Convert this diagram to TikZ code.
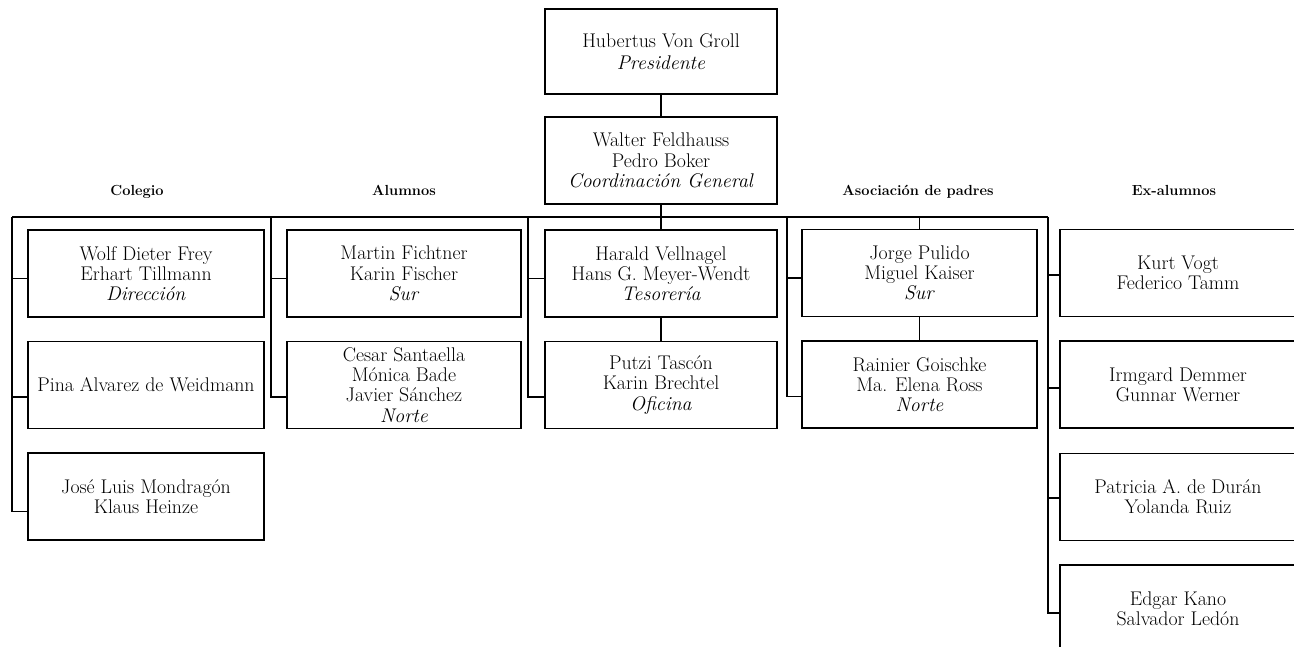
\documentclass[tikz,border=0pt]{standalone}

\begin{document}
\begin{tikzpicture}[x=1pt,y=-1pt,
    box/.style={draw,line width=1.4pt,minimum width=234pt,minimum height=87pt,
        inner sep=0pt,align=center,font=\fontsize{19.8}{20.2}\selectfont},
    head/.style={anchor=base,font=\fontsize{14.6}{16}\selectfont\bfseries},
    link/.style={line width=1.4pt}]
        \clip (0,0) rectangle (1294,647);
        % Top
        \node[box,minimum width=232pt,minimum height=85pt,font=\fontsize{19.8}{21.5}\selectfont] (pres) at (661,51.5) {Hubertus Von Groll\\\textit{Presidente}};
        \node[box,minimum width=232pt] (gen) at (661,160.5) {Walter Feldhauss\\Pedro Boker\\\textit{Coordinación General}};

        % Headings
        \node[head] (hcol) at (137,196) {Colegio};
        \node[head] (halu) at (404,196) {Alumnos};
        \node[head] (haso) at (918,196) {Asociación de padres};
        \node[head] (hexa) at (1174,196) {Ex-alumnos};

        % Colegio
        \node[box,minimum width=236pt] (col1) at (146,273.5) {Wolf Dieter Frey\\Erhart Tillmann\\\textit{Dirección}};
        \node[box,minimum width=236pt] (col2) at (146,385) {Pina Alvarez de Weidmann};
        \node[box,minimum width=236pt] (col3) at (146,496.5) {José Luis Mondragón\\Klaus Heinze};
        % Alumnos
        \node[box] (alu1) at (404,273.5) {Martin Fichtner\\Karin Fischer\\\textit{Sur}};
        \node[box] (alu2) at (404,385) {Cesar Santaella\\Mónica Bade\\Javier Sánchez\\\textit{Norte}};
        % Tesoreria
        \node[box,minimum width=232pt] (tes1) at (661,273.5) {Harald Vellnagel\\Hans G. Meyer-Wendt\\\textit{Tesorería}};
        \node[box,minimum width=232pt] (tes2) at (661,385) {Putzi Tascón\\Karin Brechtel\\\textit{Oficina}};
        % Asociacion de padres
        \node[box,minimum width=235pt] (aso1) at (919.5,273) {Jorge Pulido\\Miguel Kaiser\\\textit{Sur}};
        \node[box,minimum width=235pt] (aso2) at (919.5,384.5) {Rainier Goischke\\Ma. Elena Ross\\\textit{Norte}};
        % Ex-alumnos
        \node[box,minimum width=236pt] (exa1) at (1178,273) {Kurt Vogt\\Federico Tamm};
        \node[box,minimum width=236pt] (exa2) at (1178,384.5) {Irmgard Demmer\\Gunnar Werner};
        \node[box,minimum width=236pt] (exa3) at (1178,497) {Patricia A. de Durán\\Yolanda Ruiz};
        \node[box,minimum width=236pt] (exa4) at (1178,608.5) {Edgar Kano\\Salvador Ledón};

        % bus
        \coordinate (busL) at (12,217);
        \coordinate (busR) at (1048,217);
        \coordinate (alubus) at (271,217);
        \coordinate (tesbus) at (528,217);
        \coordinate (asobus) at (787,217);
        \draw[link] (busL) -- (busR);

        \draw[link] (pres) -- (gen);
        \draw[link] (gen) -- (tes1);
        \draw[link] (tes1) -- (tes2);
        \draw[link] (aso1) -- (aso1 |- busL);
        \draw[link] (aso1) -- (aso2);

        % side branches
        \draw[link] ([yshift=-5pt]col1.west) -| (busL);
        \draw[link] ([yshift=-12pt]col2.west) -| (busL);
        \draw[link] (busL) |- ([yshift=-15pt]col3.west);
        \draw[link] ([yshift=-5pt]alu1.west) -| (alubus);
        \draw[link] (alubus) |- ([yshift=-12pt]alu2.west);
        \draw[link] ([yshift=-5pt]tes1.west) -| (tesbus);
        \draw[link] (tesbus) |- ([yshift=-12pt]tes2.west);
        \draw[link] ([yshift=-5pt]aso1.west) -| (asobus);
        \draw[link] (asobus) |- ([yshift=-12pt]aso2.west);
        \draw[link] ([yshift=-2pt]exa1.west) -| (busR);
        \draw[link] ([yshift=-3.5pt]exa2.west) -| (busR);
        \draw[link] ([yshift=-1pt]exa3.west) -| (busR);
        \draw[link] (busR) |- ([yshift=-4.5pt]exa4.west);
\end{tikzpicture}
\end{document}
